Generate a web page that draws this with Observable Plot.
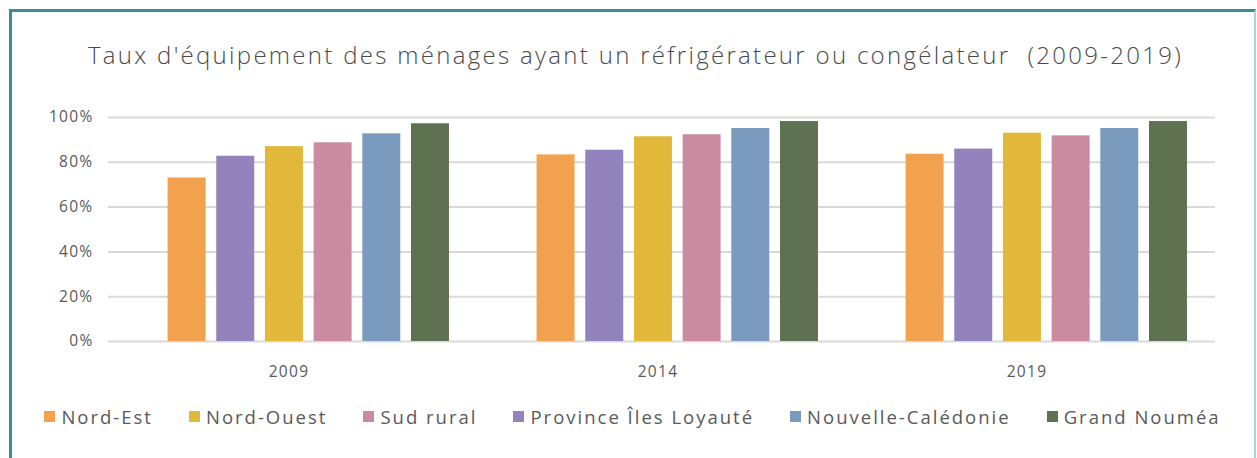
<!DOCTYPE html>
<html>
<head>
<meta charset="utf-8">
<script src="https://cdn.jsdelivr.net/npm/d3@7"></script>
<script src="https://cdn.jsdelivr.net/npm/@observablehq/plot@0.6"></script>
<style>
  html, body { margin: 0; padding: 0; background: #fff; overflow: hidden; width: 1257px; height: 458px; }
  #frame { position: absolute; left: 9px; top: 9px; width: 1242px; height: 470px;
           border-top: 3px solid #3b8c99; border-left: 3px solid #3b8c99; border-right: 2px solid #a8d5da; }
  #title { position: absolute; left: 0; top: 38px; width: 1271px; text-align: center;
           font-family: "Open Sans", sans-serif; font-weight: 300; font-size: 24px; letter-spacing: 2.3px;
           color: #4a4a4a; white-space: pre; }
  #chart { position: absolute; left: 0; top: 95px; }
  #chart svg text { letter-spacing: 1.3px; }
  #legend { position: absolute; left: 0; top: 404px; width: 1265px; display: flex; justify-content: center; gap: 36px;
            font-family: "Open Sans", sans-serif; font-size: 18.5px; letter-spacing: 2px; color: #595959; }
  .item { display: inline-flex; align-items: center; white-space: nowrap; }
  .sw { width: 11px; height: 11px; margin-right: 6px; display: inline-block; }
</style>
</head>
<body>
<div id="frame"></div>
<div id="title"></div>
<div id="chart"></div>
<div id="legend"></div>
<script>
const chartTitle = "Taux d'équipement des ménages ayant un réfrigérateur ou congélateur  (2009-2019)";
const years = ["2009", "2014", "2019"];
// bar order inside each year group
const zones = ["Nord-Est", "Province Îles Loyauté", "Nord-Ouest", "Sud rural", "Nouvelle-Calédonie", "Grand Nouméa"];
const zoneColors = ["#f2a24f", "#9283bd", "#e2b83a", "#ca8ba0", "#7a9abe", "#5e7252"];
// legend order
const legendOrder = ["Nord-Est", "Nord-Ouest", "Sud rural", "Province Îles Loyauté", "Nouvelle-Calédonie", "Grand Nouméa"];
// values per zone, for 2009, 2014, 2019
const nordEst        = [0.730, 0.833, 0.836];
const provinceIles   = [0.827, 0.854, 0.859];
const nordOuest      = [0.870, 0.914, 0.930];
const sudRural       = [0.887, 0.923, 0.918];
const nouvelleCaled  = [0.927, 0.951, 0.951];
const grandNoumea    = [0.972, 0.982, 0.982];
const yTicks = [0, 0.2, 0.4, 0.6, 0.8, 1.0];

const seriesValues = [nordEst, provinceIles, nordOuest, sudRural, nouvelleCaled, grandNoumea];
const data = [];
years.forEach((yr, i) => zones.forEach((z, j) => data.push({year: yr, zone: z, value: seriesValues[j][i]})));

document.getElementById("title").textContent = chartTitle;

const chart = Plot.plot({
  width: 1257,
  height: 290,
  marginLeft: 108,
  marginRight: 42,
  marginTop: 22,
  marginBottom: 44,
  style: {fontFamily: "'Open Sans', sans-serif", fontSize: "15.5px", color: "#595959", background: "transparent"},
  fx: {domain: years, padding: 0, round: false},
  x: {domain: zones, paddingInner: 0.22, paddingOuter: 0.9, align: 0.68, round: false, axis: null},
  y: {domain: [0, 1]},
  color: {domain: zones, range: zoneColors},
  marks: [
    Plot.ruleY(yTicks, {stroke: "#d9d9d9", strokeWidth: 2}),
    Plot.barY(data, {fx: "year", x: "zone", y: "value", fill: "zone"}),
    Plot.axisY({ticks: yTicks, tickFormat: d3.format(".0%"), tickSize: 0, tickPadding: 15, label: null}),
    Plot.axisFx({anchor: "bottom", tickSize: 0, tickPadding: 24, dx: -4, label: null})
  ]
});
document.getElementById("chart").appendChild(chart);

const colorOf = Object.fromEntries(zones.map((z, i) => [z, zoneColors[i]]));
const legend = document.getElementById("legend");
legendOrder.forEach(z => {
  const it = document.createElement("span");
  it.className = "item";
  const sw = document.createElement("span");
  sw.className = "sw";
  sw.style.background = colorOf[z];
  const tx = document.createElement("span");
  tx.textContent = z;
  it.appendChild(sw); it.appendChild(tx);
  legend.appendChild(it);
});
</script>
</body>
</html>
